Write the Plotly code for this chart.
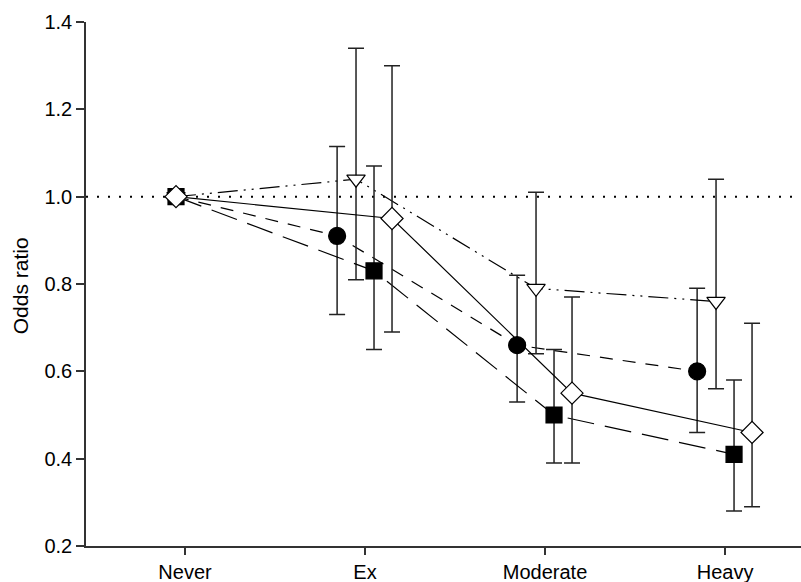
import plotly.graph_objects as go

categories = ["Never", "Ex", "Moderate", "Heavy"]

circle_or = [1.0, 0.91, 0.66, 0.60]
circle_hi = [1.0, 1.115, 0.82, 0.79]
circle_lo = [1.0, 0.73, 0.53, 0.46]

triangle_or = [1.0, 1.04, 0.79, 0.76]
triangle_hi = [1.0, 1.34, 1.01, 1.04]
triangle_lo = [1.0, 0.81, 0.64, 0.56]

square_or = [1.0, 0.83, 0.50, 0.41]
square_hi = [1.0, 1.07, 0.65, 0.58]
square_lo = [1.0, 0.65, 0.39, 0.28]

diamond_or = [1.0, 0.95, 0.55, 0.46]
diamond_hi = [1.0, 1.30, 0.77, 0.71]
diamond_lo = [1.0, 0.69, 0.39, 0.29]

y_ticks = [0.2, 0.4, 0.6, 0.8, 1.0, 1.2, 1.4]

FONT = "Liberation Sans, Arial, Helvetica, sans-serif"
never_offset = -0.05

series = [
    dict(y=circle_or, hi=circle_hi, lo=circle_lo, off=-0.155, symbol="circle", size=17,
         fill="black", dash="13px,10px"),
    dict(y=triangle_or, hi=triangle_hi, lo=triangle_lo, off=-0.05, symbol="triangle-down", size=16,
         fill="white", dash="20px,6px,2px,6px,2px,6px"),
    dict(y=square_or, hi=square_hi, lo=square_lo, off=0.05, symbol="square", size=16,
         fill="black", dash="27px,11px"),
    dict(y=diamond_or, hi=diamond_hi, lo=diamond_lo, off=0.15, symbol="diamond", size=17,
         fill="white", dash="solid"),
]

fig = go.Figure()

for s in series:
    xs = [i + (never_offset if i == 0 else s["off"]) for i in range(len(categories))]
    plus = [h - v for h, v in zip(s["hi"], s["y"])]
    minus = [v - l for v, l in zip(s["y"], s["lo"])]
    fig.add_trace(go.Scatter(
        x=xs, y=s["y"], mode="lines+markers",
        line=dict(color="black", width=1.2, dash=s["dash"]),
        marker=dict(symbol=s["symbol"], size=s["size"], color=s["fill"],
                    line=dict(color="black", width=1.2)),
        error_y=dict(type="data", symmetric=False, array=plus, arrayminus=minus,
                     color="#222222", thickness=1.5, width=8),
        showlegend=False, hoverinfo="skip",
    ))

fig.add_shape(type="line", xref="paper", yref="y", x0=0, x1=1, y0=1.0, y1=1.0,
              line=dict(color="black", width=2, dash="2px,9px"), layer="below")

fig.update_layout(
    width=801, height=582,
    margin=dict(l=86, r=0, t=22, b=36),
    paper_bgcolor="white", plot_bgcolor="white",
    font=dict(family=FONT, color="black", size=20),
    xaxis=dict(range=[-0.55, 3.422], tickvals=list(range(len(categories))), ticktext=categories,
               showgrid=False, zeroline=False, showline=True, linecolor="#333333", linewidth=1.5,
               ticks="outside", ticklen=7, tickwidth=1.5, tickcolor="#333333",
               tickfont=dict(size=20, family=FONT)),
    yaxis=dict(range=[0.2, 1.4], tickvals=y_ticks, ticktext=[f"{v:.1f}" for v in y_ticks],
               showgrid=False, zeroline=False, showline=True, linecolor="#333333", linewidth=1.5,
               ticks="outside", ticklen=8, tickwidth=1.5, tickcolor="#333333",
               tickfont=dict(size=20, family=FONT)),
    annotations=[dict(text="Odds ratio", textangle=-90, xref="paper", yref="paper",
                      x=-0.092, y=0.496, xanchor="center", yanchor="middle", showarrow=False,
                      font=dict(size=21, family=FONT))],
)

fig.write_html("out.html", config={"displayModeBar": False},
               post_script="document.body.style.margin='0';document.body.style.overflow='hidden';")
